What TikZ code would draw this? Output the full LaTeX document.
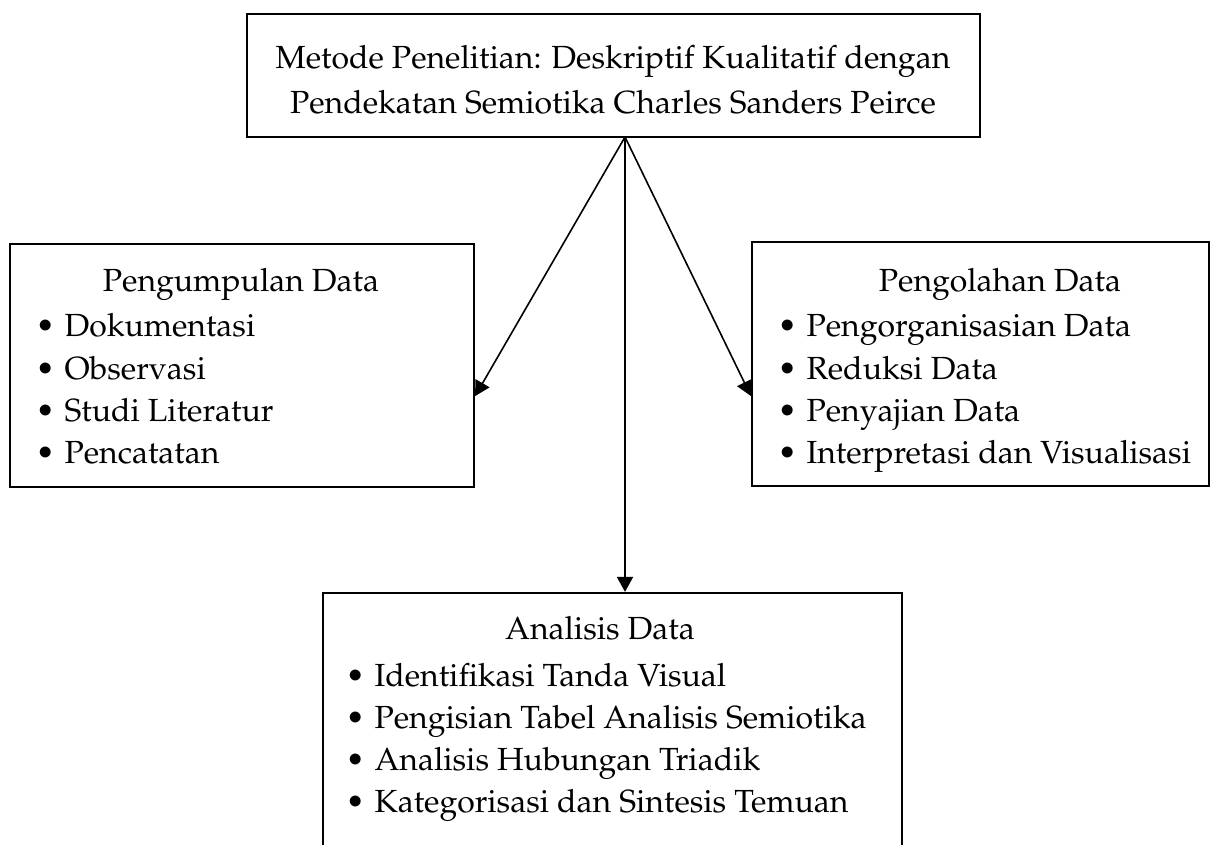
\documentclass[tikz,border=0pt]{standalone}
\usepackage[T1]{fontenc}
\usepackage{mathpazo}
\usetikzlibrary{arrows.meta}
\usetikzlibrary{calc}

\tikzset{
  panel/.style={draw,solid,color=black,line width=0.8pt,inner sep=0pt,rectangle},
  heading/.style={anchor=base,inner sep=0pt},
  entry/.style={anchor=base west,inner sep=0pt},
  link/.style={-{Triangle[length=5.6pt,width=6pt]},line width=0.6pt}
}
\newcommand{\itm}[1]{\textbullet\hspace{0.3em}#1}

\begin{document}
\begin{tikzpicture}[x=0.375pt,y=-0.375pt,font=\fontsize{12}{15}\selectfont]
\useasboundingbox (0,0) rectangle (1211,845);
\clip (0,0) rectangle (1211,845);

% boxes
\node[panel,minimum width=274.9pt,minimum height=46.1pt](method) at (613.5, 75.5) {};
\node[panel,minimum width=174pt,minimum height=91.1pt](collect) at (242, 365.5) {};
\node[panel,minimum width=171.4pt,minimum height=91.5pt](process) at (980.5, 364) {};
\node[panel,minimum width=217.1pt,minimum height=103.9pt](analysis) at (612.5, 731.5) {};

% method
\node[heading](m1) at (613, 69) {Metode Penelitian: Deskriptif Kualitatif dengan};
\node[heading](m2) at (613, 114) {Pendekatan Semiotika Charles Sanders Peirce};

% pengumpulan data
\node[heading](c0) at (241, 291) {Pengumpulan Data};
\node[entry](c1) at (35, 337) {\itm{Dokumentasi}};
\node[entry](c2) at (35, 379) {\itm{Observasi}};
\node[entry](c3) at (35, 421) {\itm{Studi Literatur}};
\node[entry](c4) at (35, 463) {\itm{Pencatatan}};

% pengolahan data
\node[heading](p0) at (1000, 291) {Pengolahan Data};
\node[entry](p1) at (777, 337) {\itm{Pengorganisasian Data}};
\node[entry](p2) at (777, 379) {\itm{Reduksi Data}};
\node[entry](p3) at (777, 421) {\itm{Penyajian Data}};
\node[entry](p4) at (777, 463) {\itm{Interpretasi dan Visualisasi}};

% analisis data
\node[heading](a0) at (600, 639) {Analisis Data};
\node[entry](a1) at (345, 686) {\itm{Identifikasi Tanda Visual}};
\node[entry](a2) at (345, 728) {\itm{Pengisian Tabel Analisis Semiotika}};
\node[entry](a3) at (345, 770) {\itm{Analisis Hubungan Triadik}};
\node[entry](a4) at (345, 812) {\itm{Kategorisasi dan Sintesis Temuan}};

% arrows
\coordinate(src) at (625, 137);
\draw[link] (src)--($(collect.north east)!0.625!(collect.south east)$);
\draw[link] (src)--($(process.north west)!0.63!(process.south west)$);
\draw[link] (src)--(src |- analysis.north);
\end{tikzpicture}
\end{document}
